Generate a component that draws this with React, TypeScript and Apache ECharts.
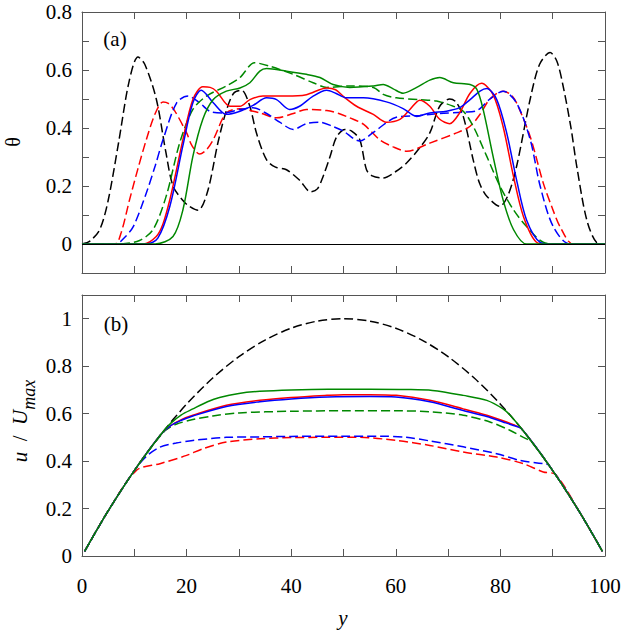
import React, { useEffect, useRef, useState } from "react";
import * as echarts from "echarts";

// ---------- Panel (a): theta vs y ----------
const thetaBlackDash: number[][] = [
  [0, 0], [1.5, 0.01], [3.4, 0.05], [5, 0.15], [7, 0.35], [9, 0.56], [10.7, 0.645], [12, 0.62],
  [14.2, 0.5], [16, 0.32], [17.4, 0.2], [19.3, 0.15], [20.5, 0.13], [22.2, 0.116], [24, 0.18],
  [26, 0.35], [27.6, 0.46], [29, 0.52], [30.5, 0.53], [32, 0.48], [33.4, 0.38], [35.3, 0.29],
  [37, 0.265], [39.1, 0.256], [41.6, 0.22], [43.7, 0.18], [45, 0.19], [46.1, 0.233], [47.4, 0.3],
  [48.7, 0.37], [50.3, 0.395], [51.5, 0.39], [53.1, 0.36], [54.4, 0.256], [55.5, 0.235],
  [57.6, 0.228], [60, 0.25], [62.1, 0.28], [64.5, 0.33], [66.5, 0.383], [68.4, 0.475], [70.3, 0.5],
  [71.5, 0.49], [72.9, 0.44], [74.8, 0.29], [76, 0.21], [77.4, 0.165], [79.9, 0.13], [81.5, 0.17],
  [83.1, 0.268], [85.7, 0.5], [87.5, 0.62], [89.5, 0.66], [90.8, 0.63], [92, 0.544], [93.5, 0.4],
  [94.6, 0.268], [96.5, 0.084], [98.4, 0.005], [100, 0],
];
const thetaRedDash: number[][] = [
  [0, 0], [6.3, 0], [7.5, 0.04], [9.1, 0.153], [10.7, 0.26], [12.3, 0.36], [14, 0.45], [15.5, 0.49],
  [16.5, 0.485], [17.7, 0.46], [20, 0.383], [21, 0.34], [22.5, 0.31], [23.8, 0.325], [25.1, 0.36],
  [27.6, 0.452], [30.2, 0.466], [34, 0.452], [37.2, 0.435], [40.4, 0.45], [42.9, 0.464],
  [46.8, 0.46], [49.1, 0.45], [51.2, 0.435], [53.8, 0.413], [56.9, 0.36], [59.5, 0.335],
  [62.1, 0.32], [66.5, 0.348], [71.6, 0.383], [74.2, 0.406], [76.1, 0.447], [78, 0.5],
  [80.5, 0.527], [82, 0.515], [83.1, 0.486], [85.7, 0.37], [88.2, 0.21], [90, 0.12], [91.4, 0.06],
  [93.9, 0], [100, 0],
];
const thetaBlueDash: number[][] = [
  [0, 0], [6.5, 0], [8, 0.02], [9.8, 0.06], [12.3, 0.176], [14, 0.27], [15.5, 0.36], [18.1, 0.487],
  [20.3, 0.51], [22.5, 0.487], [24.4, 0.458], [27, 0.452], [30.2, 0.464], [32.7, 0.47],
  [35.3, 0.45], [37.8, 0.42], [40.4, 0.395], [42.9, 0.415], [45.5, 0.42], [48, 0.405],
  [49.9, 0.39], [53.1, 0.355], [55.7, 0.385], [60.1, 0.437], [64.6, 0.443], [68.4, 0.45],
  [72.9, 0.455], [75.5, 0.46], [78, 0.5], [80.5, 0.527], [83.1, 0.486], [85.7, 0.36],
  [87.6, 0.2], [90.1, 0.06], [93.3, 0], [100, 0],
];
const thetaGreenDash: number[][] = [
  [0, 0], [7.2, 0], [11, 0.012], [13.6, 0.05], [16.1, 0.165], [18.7, 0.35], [21.2, 0.464],
  [23.8, 0.51], [27.6, 0.545], [30.2, 0.574], [33, 0.625], [35.9, 0.613], [40.4, 0.585],
  [44.2, 0.556], [46.8, 0.54], [51.2, 0.545], [55.7, 0.54], [57.6, 0.516], [60.1, 0.504],
  [64.6, 0.498], [67.8, 0.493], [71, 0.475], [72.9, 0.458], [74.8, 0.406], [77.4, 0.302],
  [79.9, 0.2], [82.5, 0.118], [85, 0.06], [88.2, 0.006], [91, 0], [100, 0],
];
const thetaRedSolid: number[][] = [
  [0, 0], [11.7, 0], [14.2, 0.026], [15.5, 0.07], [16.8, 0.153], [18, 0.25], [19.3, 0.36],
  [21.2, 0.498], [23.1, 0.542], [24.5, 0.54], [25.7, 0.527], [28.3, 0.475], [30.2, 0.475],
  [32.1, 0.498], [34.6, 0.51], [39.1, 0.51], [42.9, 0.515], [46.8, 0.538], [48.5, 0.532],
  [49.9, 0.51], [52.5, 0.475], [55.7, 0.447], [58.2, 0.42], [60.8, 0.43], [62.7, 0.464],
  [64.6, 0.496], [66.5, 0.475], [68.4, 0.43], [70.3, 0.415], [72.2, 0.452], [74.2, 0.52],
  [76.4, 0.554], [78.6, 0.515], [80.5, 0.406], [82.5, 0.233], [84.4, 0.095], [86.9, 0.006],
  [89, 0], [100, 0],
];
const thetaBlueSolid: number[][] = [
  [0, 0], [12.3, 0], [14.5, 0.02], [16.8, 0.13], [19.3, 0.34], [21.2, 0.487], [22.8, 0.53],
  [25.1, 0.487], [27.6, 0.447], [30.2, 0.458], [32.7, 0.478], [35.3, 0.504], [37.2, 0.498],
  [39.7, 0.464], [41.6, 0.475], [44.2, 0.51], [46.8, 0.53], [48.5, 0.52], [50.6, 0.504],
  [53.8, 0.504], [58.2, 0.49], [61.4, 0.467], [64, 0.44], [66.5, 0.452], [69.7, 0.458],
  [72.2, 0.47], [74.2, 0.498], [76.1, 0.527], [77.4, 0.536], [79.3, 0.498], [81.2, 0.383],
  [83.1, 0.22], [85, 0.083], [87.6, 0.006], [90, 0], [100, 0],
];
const thetaGreenSolid: number[][] = [
  [0, 0], [14, 0], [17.4, 0.026], [19.3, 0.118], [21.2, 0.302], [23.1, 0.43], [25.1, 0.498],
  [27.6, 0.527], [30.2, 0.538], [32.1, 0.556], [34, 0.596], [35.3, 0.605], [39.1, 0.596],
  [42.9, 0.585], [45.5, 0.574], [48, 0.55], [51.2, 0.54], [55.7, 0.545], [57.6, 0.55],
  [59.5, 0.535], [61.4, 0.52], [64, 0.54], [66.5, 0.565], [68.4, 0.574], [71, 0.556],
  [74.2, 0.55], [75.5, 0.533], [76.7, 0.464], [78.6, 0.302], [80.5, 0.153], [82.5, 0.05],
  [85, 0], [100, 0],
];

// ---------- Panel (b): u/Umax vs y ----------
const uBlackDash: number[][] = [
  [0.5, 0.02], [5, 0.19], [10, 0.36], [15, 0.51], [20, 0.64], [25, 0.75], [30, 0.84], [35, 0.91],
  [40, 0.96], [45, 0.99], [50, 1.0], [55, 0.99], [60, 0.96], [65, 0.91], [70, 0.84], [75, 0.75],
  [80, 0.64], [85, 0.51], [90, 0.36], [95, 0.19], [99.5, 0.02],
];
const uRedDash: number[][] = [
  [0.5, 0.02], [5, 0.19], [10.4, 0.361], [14.9, 0.389], [20, 0.424], [23.1, 0.452], [27.6, 0.48],
  [34, 0.494], [40, 0.499], [47, 0.5], [53, 0.5], [60.1, 0.487], [66.5, 0.466], [72.9, 0.438],
  [79.3, 0.417], [84.4, 0.389], [88.2, 0.354], [90.5, 0.344], [95, 0.19], [99.5, 0.02],
];
const uBlueDash: number[][] = [
  [0.5, 0.02], [5, 0.19], [10, 0.36], [12.3, 0.42], [14.9, 0.459], [18, 0.476], [21.2, 0.487],
  [27.6, 0.5], [34, 0.502], [40, 0.504], [50, 0.505], [57, 0.505], [62, 0.5], [66.5, 0.485],
  [72.9, 0.46], [79.3, 0.431], [83.7, 0.403], [88.2, 0.389], [89.3, 0.382], [95, 0.19],
  [99.5, 0.02],
];
const uGreenDash: number[][] = [
  [0.5, 0.02], [5, 0.19], [10, 0.36], [14, 0.48], [16, 0.53], [18, 0.555], [21.2, 0.575],
  [25, 0.59], [30, 0.603], [40, 0.61], [50, 0.612], [60, 0.612], [66.5, 0.608], [72.9, 0.593],
  [78, 0.565], [81.8, 0.53], [84.4, 0.5], [86, 0.48], [90, 0.36], [95, 0.19], [99.5, 0.02],
];
const uRedSolid: number[][] = [
  [0.5, 0.02], [5, 0.19], [10, 0.36], [15, 0.51], [17, 0.55], [19, 0.575], [21.2, 0.593],
  [27.6, 0.635], [34, 0.656], [40, 0.668], [46.8, 0.677], [50, 0.68], [55, 0.68], [60.1, 0.677],
  [66.5, 0.656], [72.9, 0.62], [77.4, 0.593], [80.5, 0.57], [82.5, 0.553], [84, 0.537],
  [90, 0.36], [95, 0.19], [99.5, 0.02],
];
const uBlueSolid: number[][] = [
  [0.5, 0.02], [5, 0.19], [10, 0.36], [15, 0.51], [17, 0.55], [19, 0.572], [21.2, 0.59],
  [27.6, 0.63], [34, 0.65], [40, 0.662], [47, 0.67], [55, 0.672], [60, 0.67], [66.5, 0.65],
  [72.9, 0.613], [77.4, 0.588], [80.5, 0.565], [82.5, 0.55], [84, 0.537], [90, 0.36], [95, 0.19],
  [99.5, 0.02],
];
const uGreenSolid: number[][] = [
  [0.5, 0.02], [5, 0.19], [10, 0.36], [15, 0.51], [17, 0.56], [19, 0.595], [21.2, 0.62],
  [24, 0.65], [26.3, 0.668], [30, 0.685], [34, 0.694], [40, 0.7], [47, 0.703], [55, 0.703],
  [62, 0.702], [67, 0.698], [72.9, 0.677], [77.4, 0.656], [80.5, 0.62], [82, 0.59], [85, 0.51],
  [90, 0.36], [95, 0.19], [99.5, 0.02],
];

const xTickLabels = [0, 20, 40, 60, 80, 100];
const panelLabels = ["(a)", "(b)"];

const FONT = "Liberation Serif";
const FRAME = "#555";
const BLACK = "#000000";
const RED = "#ff0000";
const BLUE = "#0000ff";
const GREEN = "#008800";
const DASH = [9, 4];

const tick = { show: true, inside: true, length: 7, lineStyle: { color: FRAME, width: 1 } };
const line = { show: true, onZero: false, lineStyle: { color: FRAME, width: 1 } };

function xAx(grid: number, pos: "top" | "bottom", labels: boolean) {
  return {
    type: "value", gridIndex: grid, position: pos, min: 0, max: 100, interval: 10,
    axisLine: line, axisTick: tick, splitLine: { show: false },
    axisLabel: labels
      ? {
          show: true, margin: 19, color: "#000", fontSize: 21, fontFamily: FONT,
          formatter: (v: number) => (xTickLabels.includes(Math.round(v)) ? String(Math.round(v)) : ""),
        }
      : { show: false },
  };
}
function yAx(grid: number, pos: "left" | "right", min: number, max: number, interval: number, labels: boolean) {
  return {
    type: "value", gridIndex: grid, position: pos, min, max, interval,
    axisLine: line, axisTick: tick, splitLine: { show: false },
    axisLabel: labels
      ? {
          show: true, margin: 10, color: "#000", fontSize: 21, fontFamily: FONT,
          formatter: (v: number) => {
            const r = Math.round(v * 10);
            if (r < 0 || r % 2 !== 0 || r > 10) return "";
            return String(r / 10);
          },
        }
      : { show: false },
  };
}

function ser(data: number[][], color: string, dashed: boolean, xi: number, yi: number, extra: any = {}) {
  return {
    type: "line", data, xAxisIndex: xi, yAxisIndex: yi, showSymbol: false, symbol: "none",
    smooth: 0.3, silent: true,
    lineStyle: { color, width: 1.5, type: dashed ? DASH : "solid" },
    ...extra,
  };
}

function buildOption() {
  const zeroLine = {
    markLine: {
      silent: true, symbol: "none", label: { show: false },
      lineStyle: { color: "#000", width: 1, type: "solid" },
      data: [{ yAxis: 0 }],
    },
  };
  return {
    animation: false,
    backgroundColor: "#fff",
    textStyle: { fontFamily: FONT },
    grid: [
      { left: 82, top: 12, width: 523, height: 261 },
      { left: 82, top: 295, width: 523, height: 261 },
    ],
    xAxis: [xAx(0, "bottom", false), xAx(0, "top", false), xAx(1, "bottom", true), xAx(1, "top", false)],
    yAxis: [
      yAx(0, "left", -0.1, 0.8, 0.1, true),
      yAx(0, "right", -0.1, 0.8, 0.1, false),
      yAx(1, "left", 0, 1.1, 0.2, true),
      yAx(1, "right", 0, 1.1, 0.2, false),
    ],
    series: [
      ser(thetaBlackDash, BLACK, true, 0, 0, zeroLine),
      ser(thetaRedDash, RED, true, 0, 0),
      ser(thetaBlueDash, BLUE, true, 0, 0),
      ser(thetaGreenDash, GREEN, true, 0, 0),
      ser(thetaRedSolid, RED, false, 0, 0),
      ser(thetaBlueSolid, BLUE, false, 0, 0),
      ser(thetaGreenSolid, GREEN, false, 0, 0),
      ser(uBlackDash, BLACK, true, 2, 2),
      ser(uRedDash, RED, true, 2, 2),
      ser(uBlueDash, BLUE, true, 2, 2),
      ser(uGreenDash, GREEN, true, 2, 2),
      ser(uRedSolid, RED, false, 2, 2),
      ser(uBlueSolid, BLUE, false, 2, 2),
      ser(uGreenSolid, GREEN, false, 2, 2),
    ],
  };
}

const labelBase: React.CSSProperties = {
  position: "fixed",
  fontFamily: "'Liberation Serif', serif",
  color: "#000",
  lineHeight: 1,
  whiteSpace: "nowrap",
  pointerEvents: "none",
  transform: "translate(-50%, -50%)",
};

export default function App() {
  const ref = useRef<HTMLDivElement>(null);
  const [, setReady] = useState(0);
  useEffect(() => {
    if (!ref.current) return;
    const chart = echarts.init(ref.current, undefined, { renderer: "svg" });
    chart.setOption(buildOption() as any);
    let alive = true;
    const t = setTimeout(() => { if (alive) setReady(1); }, 0);
    const fonts: any = (document as any).fonts;
    if (fonts && fonts.load) {
      Promise.all([
        fonts.load('21px "Liberation Serif"'),
        fonts.load('italic 21px "Liberation Serif"'),
      ])
        .then(() => { if (alive) chart.setOption(buildOption() as any, true); })
        .catch(() => {});
    }
    return () => { alive = false; clearTimeout(t); chart.dispose(); };
  }, []);
  return (
    <div>
      <div
        ref={ref}
        style={{ position: "fixed", left: 0, top: 0, width: 626, height: 633, background: "#fff" }}
      />
      <div style={{ ...labelBase, left: 115, top: 39, fontSize: 21 }}>{panelLabels[0]}</div>
      <div style={{ ...labelBase, left: 116, top: 324, fontSize: 21 }}>{panelLabels[1]}</div>
      <div style={{ ...labelBase, left: 13, top: 142, fontSize: 20, transform: "translate(-50%, -50%) rotate(-90deg)" }}>
        θ
      </div>
      <div style={{ ...labelBase, left: 20, top: 421, fontSize: 21, transform: "translate(-50%, -50%) rotate(-90deg)" }}>
        <i>u</i>&nbsp;&nbsp;/&nbsp;&nbsp;<i>U</i>
        <i style={{ position: "relative", top: 8, fontSize: 18 }}>max</i>
      </div>
      <div style={{ ...labelBase, left: 343, top: 618, fontSize: 21 }}>
        <i>y</i>
      </div>
    </div>
  );
}
